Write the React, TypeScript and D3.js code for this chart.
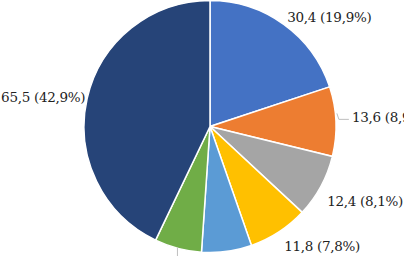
import * as d3 from 'd3';
import React, { useEffect, useRef } from 'react';

const values = [30.4, 13.6, 12.4, 11.8, 9.8, 9.2, 65.5];
const percents = ['19,9', '8,9', '8,1', '7,8', '6,4', '6,0', '42,9'];
const colors = ['#4472C4', '#ED7D31', '#A5A5A5', '#FFC000', '#5B9BD5', '#70AD47', '#264478'];
// small label nudges (dx, dy) relative to the arc-based position
const labelNudge: [number, number][] = [
  [0, -2],
  [10, -4],
  [1, 12],
  [2, 9],
  [0, 30],
  [0, 30],
  [4, 0]
];
// labels of slices 4 and 5 fall below the visible frame
const hiddenLabels = [4, 5];
const leaderSlices = [1, 5];

const width = 404;
const height = 256;

const App = () => {
  const ref = useRef<SVGSVGElement>(null);

  useEffect(() => {
    const svg = d3.select(ref.current);
    svg.selectAll('*').remove();

    const cx = 210;
    const cy = 126.5;
    const r = 126;

    const pie = d3.pie<number>().sort(null).value((d) => d);
    const arcs = pie(values);
    const arc = d3.arc<d3.PieArcDatum<number>>().innerRadius(0).outerRadius(r);

    const g = svg.append('g').attr('transform', `translate(${cx},${cy})`);

    g.selectAll('path.slice')
      .data(arcs)
      .enter()
      .append('path')
      .attr('class', 'slice')
      .attr('d', arc)
      .attr('fill', (_, i) => colors[i])
      .attr('stroke', '#fff')
      .attr('stroke-width', 1.5);

    const labelR = r + 6;
    arcs.forEach((a, i) => {
      const mid = (a.startAngle + a.endAngle) / 2;
      const x = Math.sin(mid) * labelR + labelNudge[i][0];
      const y = -Math.cos(mid) * labelR + labelNudge[i][1];
      const right = Math.sin(mid) >= 0;
      if (!hiddenLabels.includes(i)) {
        g.append('text')
          .attr('x', x)
          .attr('y', y)
          .attr('dy', '0.36em')
          .attr('text-anchor', right ? 'start' : 'end')
          .style('font-family', "'DejaVu Serif'")
          .style('letter-spacing', '-0.3px')
          .attr('font-size', 13.5)
          .attr('fill', '#222')
          .text(`${String(values[i]).replace('.', ',')} (${percents[i]}%)`);
      }

      if (leaderSlices.includes(i)) {
        const ex = Math.sin(mid) * (r + 2);
        const ey = -Math.cos(mid) * (r + 2);
        g.append('path')
          .attr('d', i === 1
            ? `M${ex - 1},${ey - 8}L${ex + 1},${ey - 2}L${x - 3},${ey - 2}`
            : `M${ex},${ey - 3}L${ex},${ey + 10}`)
          .attr('fill', 'none')
          .attr('stroke', '#bfbfbf')
          .attr('stroke-width', 1);
      }
    });
  }, []);

  return (
    <svg
      ref={ref}
      width={width}
      height={height}
      style={{ position: 'absolute', left: 0, top: 0, background: '#fff' }}
    />
  );
};

export default App;
